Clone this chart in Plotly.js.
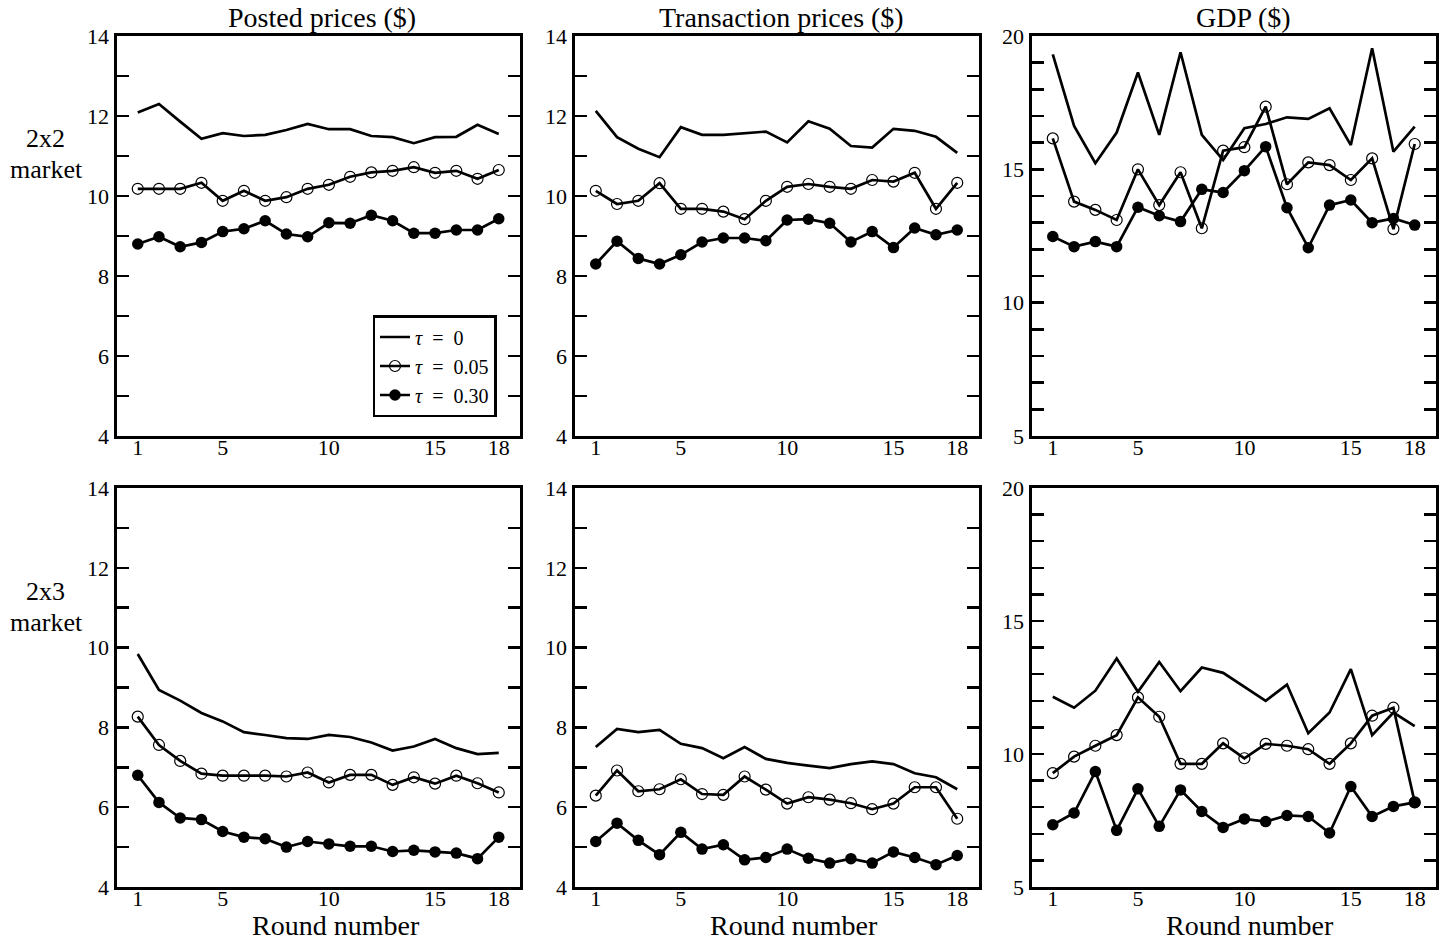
<!DOCTYPE html>
<html><head><meta charset="utf-8">
<script src="https://cdn.plot.ly/plotly-3.0.1.min.js"></script>
<style>html,body{margin:0;padding:0;background:#fff}#chart{width:1448px;height:940px}</style>
</head><body><div id="chart"></div>
<script>
const rounds = [1,2,3,4,5,6,7,8,9,10,11,12,13,14,15,16,17,18];
const xTickVals = [1,5,10,15,18];
const priceTickVals = [4,5,6,7,8,9,10,11,12,13,14];
const priceTickText = ['4','','6','','8','','10','','12','','14'];
const gdpTickVals = [5,6,7,8,9,10,11,12,13,14,15,16,17,18,19,20];
const gdpTickText = ['5','','','','','10','','','','','15','','','','','20'];
const columnTitles = ['Posted prices ($)','Transaction prices ($)','GDP ($)'];
const rowNames = ['2x2','2x3'];
const rowSuffix = 'market';
const xAxisLabel = 'Round number';
const seriesNames = ['<i>τ</i>\u2002=\u20020','<i>τ</i>\u2002=\u20020.05','<i>τ</i>\u2002=\u20020.30'];

// 2x2 market
const posted2x2_t0   = [12.09,12.30,11.86,11.43,11.57,11.50,11.53,11.65,11.80,11.67,11.67,11.50,11.47,11.32,11.47,11.48,11.78,11.55];
const posted2x2_t005 = [10.18,10.18,10.18,10.33,9.88,10.13,9.88,9.97,10.18,10.28,10.48,10.59,10.63,10.72,10.58,10.63,10.43,10.65];
const posted2x2_t030 = [8.80,8.98,8.73,8.84,9.11,9.18,9.38,9.05,8.98,9.33,9.32,9.52,9.38,9.07,9.07,9.15,9.15,9.43];
const trans2x2_t0    = [12.13,11.47,11.18,10.97,11.72,11.53,11.53,11.57,11.61,11.34,11.87,11.68,11.25,11.21,11.68,11.63,11.48,11.08];
const trans2x2_t005  = [10.13,9.80,9.88,10.32,9.68,9.68,9.61,9.42,9.88,10.23,10.30,10.23,10.18,10.40,10.36,10.58,9.68,10.33];
const trans2x2_t030  = [8.30,8.87,8.44,8.30,8.53,8.85,8.95,8.95,8.88,9.40,9.42,9.32,8.85,9.11,8.71,9.20,9.03,9.15];
const gdp2x2_t0      = [19.31,16.63,15.23,16.38,18.63,16.29,19.39,16.29,15.35,16.54,16.70,16.95,16.89,17.29,15.91,19.54,15.66,16.60];
const gdp2x2_t005    = [16.16,13.79,13.48,13.10,15.00,13.66,14.89,12.79,15.70,15.83,17.35,14.44,15.26,15.16,14.60,15.41,12.76,15.95];
const gdp2x2_t030    = [12.48,12.10,12.29,12.10,13.58,13.26,13.04,14.25,14.13,14.95,15.85,13.56,12.06,13.66,13.85,13.00,13.16,12.91];
// 2x3 market
const posted2x3_t0   = [9.84,8.94,8.67,8.36,8.15,7.88,7.81,7.73,7.71,7.81,7.76,7.62,7.42,7.52,7.71,7.48,7.33,7.36];
const posted2x3_t005 = [8.27,7.56,7.16,6.84,6.79,6.79,6.79,6.77,6.87,6.62,6.81,6.81,6.56,6.75,6.59,6.79,6.60,6.37];
const posted2x3_t030 = [6.80,6.12,5.73,5.69,5.39,5.25,5.21,5.00,5.14,5.08,5.02,5.02,4.89,4.92,4.88,4.85,4.71,5.25];
const trans2x3_t0    = [7.51,7.96,7.88,7.94,7.59,7.48,7.23,7.51,7.21,7.11,7.04,6.98,7.08,7.15,7.08,6.85,6.75,6.45];
const trans2x3_t005  = [6.29,6.92,6.40,6.45,6.70,6.33,6.31,6.77,6.44,6.09,6.25,6.19,6.10,5.95,6.09,6.50,6.50,5.71];
const trans2x3_t030  = [5.14,5.60,5.17,4.81,5.37,4.95,5.06,4.68,4.74,4.95,4.72,4.60,4.71,4.60,4.88,4.74,4.56,4.79];
const gdp2x3_t0      = [12.15,11.74,12.38,13.59,12.34,13.46,12.36,13.25,13.05,12.53,12.00,12.61,10.78,11.56,13.19,10.71,11.56,11.05];
const gdp2x3_t005    = [9.28,9.90,10.31,10.71,12.13,11.40,9.63,9.63,10.40,9.84,10.38,10.31,10.18,9.63,10.40,11.44,11.74,8.18];
const gdp2x3_t030    = [7.34,7.78,9.34,7.13,8.69,7.28,8.65,7.84,7.24,7.56,7.46,7.69,7.65,7.03,8.78,7.65,8.03,8.18];

const panels = [
  [posted2x2_t0, posted2x2_t005, posted2x2_t030],
  [trans2x2_t0, trans2x2_t005, trans2x2_t030],
  [gdp2x2_t0, gdp2x2_t005, gdp2x2_t030],
  [posted2x3_t0, posted2x3_t005, posted2x3_t030],
  [trans2x3_t0, trans2x3_t005, trans2x3_t030],
  [gdp2x3_t0, gdp2x3_t005, gdp2x3_t030]
];

const W = 1448, H = 940;
const serif = '"Liberation Serif", "Times New Roman", serif';
const colDom = [[116.5/W, 520/W], [574.5/W, 978.5/W], [1031.5/W, 1436/W]];
const rowDom = [[1-436/H, 1-36/H], [1-887/H, 1-488/H]];
const titleX = [322, 781, 1243];
const xlabX = [336, 794, 1250];

const markerStyles = [
  {mode:'lines'},
  {mode:'lines+markers', marker:{symbol:'circle-open', size:11, color:'#000', line:{width:1.2, color:'#000'}}},
  {mode:'lines+markers', marker:{symbol:'circle', size:11.5, color:'#000'}}
];

const traces = [];
panels.forEach((series, p) => {
  const ax = p === 0 ? '' : String(p+1);
  series.forEach((vals, s) => {
    traces.push(Object.assign({
      x: rounds, y: vals, name: seriesNames[s], type:'scatter',
      xaxis:'x'+ax, yaxis:'y'+ax,
      line:{color:'#000', width:2.7},
      showlegend: p === 0, hoverinfo:'skip'
    }, markerStyles[s]));
  });
});

const layout = {
  width:W, height:H, margin:{l:0,r:0,t:0,b:0},
  paper_bgcolor:'#fff', plot_bgcolor:'#fff',
  font:{family:serif, color:'#000', size:21},
  showlegend:true,
  legend:{x:496.5/W, xanchor:'right', y:1-366/H, yanchor:'middle',
    bgcolor:'#fff', bordercolor:'#000', borderwidth:2.5,
    font:{family:serif, size:20},
    itemwidth:30, tracegroupgap:0},
  annotations:[]
};

for (let p = 0; p < 6; p++) {
  const ax = p === 0 ? '' : String(p+1);
  const col = p % 3, row = Math.floor(p/3);
  const gdp = col === 2;
  layout['xaxis'+ax] = {
    domain: colDom[col], range:[0,19], anchor:'y'+ax,
    showline:true, linecolor:'#000', linewidth:3, mirror:true,
    showgrid:false, zeroline:false, ticks:'',
    tickvals:xTickVals, ticktext:xTickVals.map(String),
    ticklabelstandoff:-10,
    tickfont:{family:serif, size:22}, fixedrange:true
  };
  layout['yaxis'+ax] = {
    domain: rowDom[row], range: gdp ? [5,20] : [4,14], anchor:'x'+ax,
    showline:true, linecolor:'#000', linewidth:3, mirror:'ticks',
    showgrid:false, zeroline:false, ticks:'inside', ticklen:12, tickwidth:2.5, tickcolor:'#000',
    tickvals: gdp ? gdpTickVals : priceTickVals,
    ticktext: gdp ? gdpTickText : priceTickText,
    tickfont:{family:serif, size:22}, fixedrange:true
  };
}

columnTitles.forEach((t, c) => {
  layout.annotations.push({text:t, xref:'paper', yref:'paper', x:titleX[c]/W, y:1-17/H,
    xanchor:'center', yanchor:'middle', showarrow:false, font:{family:serif, size:28}});
  layout.annotations.push({text:xAxisLabel, xref:'paper', yref:'paper', x:xlabX[c]/W, y:1-925/H,
    xanchor:'center', yanchor:'middle', showarrow:false, font:{family:serif, size:28}});
});
rowNames.forEach((t, r) => {
  const off = r === 0 ? 0 : 452;
  layout.annotations.push({text:t, xref:'paper', yref:'paper', x:45/W, y:1-(139+off)/H,
    xanchor:'center', yanchor:'middle', showarrow:false, font:{family:serif, size:26}});
  layout.annotations.push({text:rowSuffix, xref:'paper', yref:'paper', x:46/W, y:1-(170+off)/H,
    xanchor:'center', yanchor:'middle', showarrow:false, font:{family:serif, size:26}});
});

Plotly.newPlot('chart', traces, layout, {displayModeBar:false, staticPlot:true});
</script></body></html>
